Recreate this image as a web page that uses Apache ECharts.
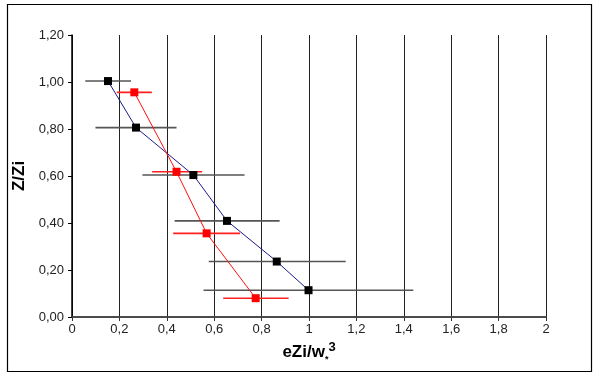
<!DOCTYPE html>
<html><head><meta charset="utf-8">
<script src="https://cdn.jsdelivr.net/npm/echarts@6/dist/echarts.min.js"></script>
<style>html,body{margin:0;padding:0;background:#fff}#c{width:596px;height:376px}</style>
</head><body><div id="c"></div>
<script>
// Black series (profile 1)
const blackX  = [0.152, 0.27, 0.512, 0.654, 0.864, 0.998];
const blackY  = [1.004, 0.806, 0.604, 0.409, 0.236, 0.114];
const blackLo = [0.056, 0.099, 0.297, 0.433, 0.577, 0.555];
const blackHi = [0.249, 0.441, 0.728, 0.876, 1.155, 1.44];
// Red series (profile 2)
const redX  = [0.263, 0.441, 0.568, 0.775];
const redY  = [0.956, 0.618, 0.356, 0.080];
const redLo = [0.189, 0.338, 0.427, 0.638];
const redHi = [0.337, 0.549, 0.709, 0.914];
const xTicks = [0, 0.2, 0.4, 0.6, 0.8, 1, 1.2, 1.4, 1.6, 1.8, 2];
const yTicks = [0, 0.2, 0.4, 0.6, 0.8, 1.0, 1.2];

const chart = echarts.init(document.getElementById('c'), null, {renderer: 'canvas'});
const font = 'Liberation Sans, Arial, sans-serif';

function errSeries(x, y, lo, hi, color, z) {
  return {
    type: 'custom', z: z,
    data: y.map((v, i) => [lo[i], hi[i], v]),
    renderItem: function (params, api) {
      const a = api.coord([api.value(0), api.value(2)]);
      const b = api.coord([api.value(1), api.value(2)]);
      return {type: 'line', shape: {x1: a[0], y1: a[1], x2: b[0], y2: b[1]},
              style: {stroke: color, lineWidth: 1.6}};
    },
    encode: {x: [0, 1], y: 2},
    silent: true
  };
}

chart.setOption({
  animation: false,
  backgroundColor: '#fff',
  graphic: [{type: 'rect', shape: {x: 7.5, y: 4.5, width: 584, height: 367},
             style: {fill: 'none', stroke: '#000', lineWidth: 1.2}, silent: true}],
  grid: {left: 72, right: 50, top: 35, bottom: 59},
  xAxis: [{
    type: 'value', min: 0, max: 2, interval: 0.2,
    axisLine: {show: true, onZero: false, lineStyle: {color: '#333', width: 2}},
    axisTick: {show: true, length: 4, lineStyle: {color: '#333'}},
    splitLine: {show: true, lineStyle: {color: '#222', width: 1}},
    axisLabel: {color: '#222', fontSize: 13, fontFamily: font, margin: 6,
      formatter: v => String(Math.round(v * 10) / 10).replace('.', ',')},
    name: '{e|e}{b|Zi/w}{s|*}{p|3}', nameLocation: 'middle', nameGap: 24,
    nameTextStyle: {rich: {
      e: {fontSize: 17, fontWeight: 'bold', fontFamily: font, color: '#000'},
      b: {fontSize: 17, fontWeight: 'bold', fontFamily: font, color: '#000'},
      s: {fontSize: 9, fontWeight: 'bold', fontFamily: font, color: '#000', verticalAlign: 'bottom', padding: [6, 0, 0, 0]},
      p: {fontSize: 13, fontWeight: 'bold', fontFamily: font, color: '#000', verticalAlign: 'top', padding: [0, 0, 10, 0]}
    }}
  }, {
    type: 'value', min: 0, max: 2, position: 'top',
    axisLine: {show: true, lineStyle: {color: '#555', width: 1.5}},
    axisTick: {show: false}, axisLabel: {show: false}, splitLine: {show: false}
  }],
  yAxis: {
    type: 'value', min: 0, max: 1.2, interval: 0.2,
    axisLine: {show: true, onZero: false, lineStyle: {color: '#000', width: 1.5}},
    axisTick: {show: true, length: 4, lineStyle: {color: '#000'}},
    splitLine: {show: false},
    axisLabel: {color: '#222', fontSize: 13, fontFamily: font, margin: 8,
      formatter: v => v.toFixed(2).replace('.', ',')},
    name: 'Z/Zi', nameLocation: 'middle', nameGap: 38,
    nameTextStyle: {fontSize: 17, fontWeight: 'bold', fontFamily: font, color: '#000'}
  },
  series: [
    errSeries(blackX, blackY, blackLo, blackHi, '#555', 2),
    errSeries(redX, redY, redLo, redHi, '#ff2020', 2),
    {type: 'line', z: 3, data: blackX.map((v, i) => [v, blackY[i]]),
     lineStyle: {color: '#1a1a8c', width: 1}, symbol: 'rect', symbolSize: 8,
     itemStyle: {color: '#000'}},
    {type: 'line', z: 4, data: redX.map((v, i) => [v, redY[i]]),
     lineStyle: {color: '#ff1010', width: 1}, symbol: 'rect', symbolSize: 8,
     itemStyle: {color: '#ff0000'}}
  ]
});
</script></body></html>
